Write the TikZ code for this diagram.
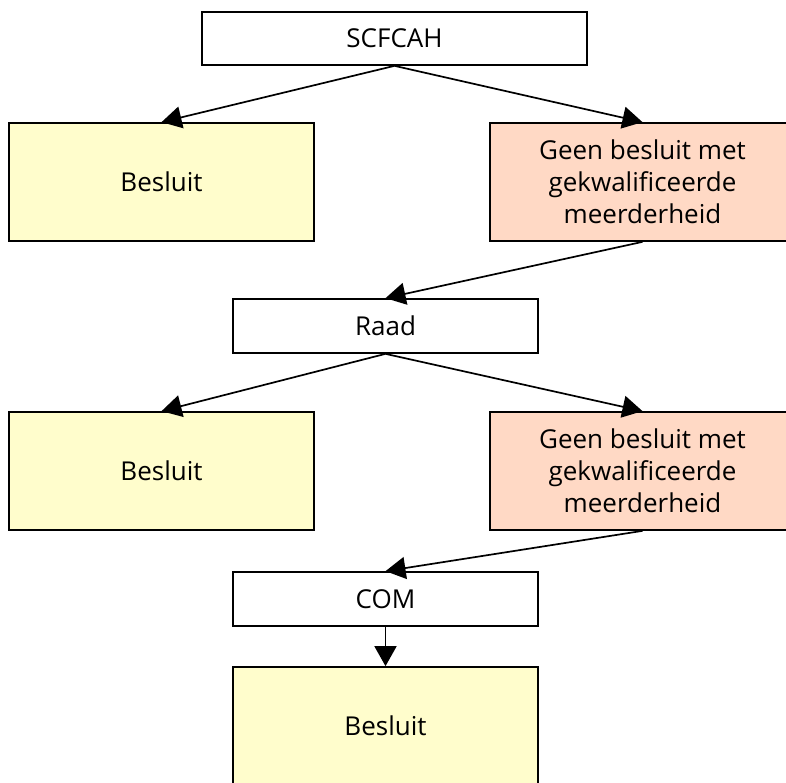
\documentclass[tikz,border=0pt]{standalone}
\usepackage{fontspec}
\setmainfont{Open Sans}
\usetikzlibrary{arrows.meta}
\definecolor{besluitfill}{RGB}{255,253,204}
\definecolor{geenfill}{RGB}{255,217,197}
\tikzset{
  box/.style={draw=black, line width=1.7pt, inner sep=0pt, align=center,
    font=\fontsize{26}{32}\selectfont, minimum width=305pt},
  whitebox/.style={box, fill=white, minimum height=54pt},
  yesbox/.style={box, fill=besluitfill, minimum height=118pt},
  nobox/.style={box, fill=geenfill, minimum height=118pt},
  conn/.style={draw=black, line width=1.7pt, -{Triangle[length=20pt,width=22pt]}}
}
\begin{document}
\begin{tikzpicture}[x=1pt,y=-1pt]
\clip (0,0) rectangle (786,783);
\fill[white] (0,0) rectangle (786,783);
\node[whitebox, minimum width=385pt, minimum height=53pt] (scf) at (394.5,38.5) {SCFCAH};
\node[yesbox] (b1) at (161.5,182) {Besluit};
\node[nobox] (g1) at (642.5,182) {Geen besluit met\\gekwalificeerde\\meerderheid};
\node[whitebox] (raad) at (385.5,326) {Raad};
\node[yesbox] (b2) at (161.5,471) {Besluit};
\node[nobox] (g2) at (642.5,471) {Geen besluit met\\gekwalificeerde\\meerderheid};
\node[whitebox] (com) at (385.5,599) {COM};
\node[yesbox] (b3) at (385.5,726) {Besluit};
\draw[conn] (scf.south) -- (b1.north);
\draw[conn] (scf.south) -- (g1.north);
\draw[conn] (g1.south) -- (raad.north);
\draw[conn] (raad.south) -- (b2.north);
\draw[conn] (raad.south) -- (g2.north);
\draw[conn] (g2.south) -- (com.north);
\draw[conn] (com.south) -- (b3.north);
\end{tikzpicture}
\end{document}
